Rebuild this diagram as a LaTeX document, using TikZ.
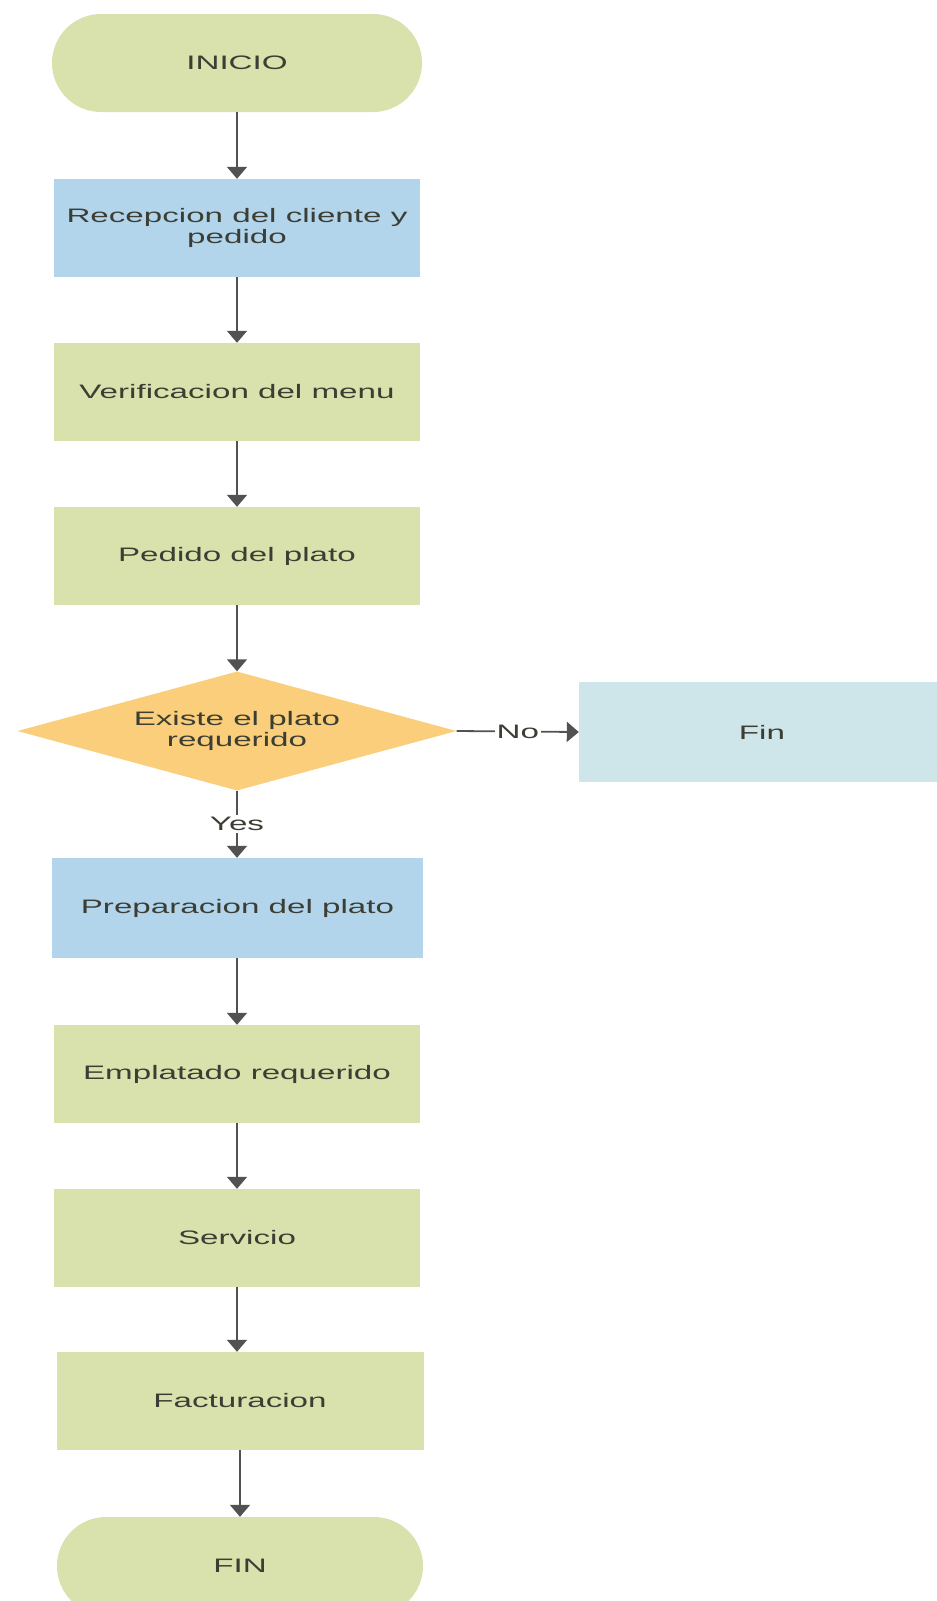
\documentclass[tikz,border=0pt]{standalone}
\usepackage{fontspec}
\setmainfont[FakeStretch=1.7]{Liberation Sans}
\usetikzlibrary{arrows.meta,shapes.geometric,shapes.misc}
\definecolor{cgreen}{RGB}{217,225,172}
\definecolor{cblue}{RGB}{178,213,236}
\definecolor{ccyan}{RGB}{206,229,233}
\definecolor{corange}{RGB}{250,206,122}
\definecolor{ctext}{RGB}{60,62,52}
\definecolor{cline}{RGB}{82,82,82}
\tikzset{
  base/.style={inner sep=0pt, text=ctext, align=center,
    font=\fontsize{19.5}{20.5}\selectfont},
  procbox/.style={base, rectangle, minimum width=366pt, minimum height=98pt},
  termbox/.style={base, rounded rectangle, fill=cgreen, minimum width=370pt, minimum height=98pt},
  decbox/.style={base, diamond, fill=corange, aspect=3.69, minimum width=439pt, minimum height=119pt},
  conn/.style={draw=cline, line width=1.8pt, -{Triangle[width=20pt,length=12pt]}},
  lbl/.style={base, fill=white, inner sep=2pt, text=ctext}
}
\begin{document}
\begin{tikzpicture}[x=1pt,y=-1pt]
\useasboundingbox (0,0) rectangle (937,1601);
\fill[white] (0,0) rectangle (937,1601);
\clip (0,0) rectangle (937,1601);
\node[termbox] (ini) at (237,63) {INICIO};
\node[procbox, fill=cblue] (rec) at (237,228) {Recepcion del cliente y\\pedido};
\node[procbox, fill=cgreen] (ver) at (237,392) {Verificacion del menu};
\node[procbox, fill=cgreen] (ped) at (237,556) {Pedido del plato};
\node[decbox] (dec) at (237,731) {Existe el plato\\requerido};
\node[procbox, fill=ccyan, minimum height=100pt] (fin) at (762,732) {Fin};
\node[procbox, fill=cblue, minimum width=371pt, minimum height=100pt] (pre) at (237.5,908) {Preparacion del plato};
\node[procbox, fill=cgreen] (emp) at (237,1074) {Emplatado requerido};
\node[procbox, fill=cgreen] (ser) at (237,1238) {Servicio};
\node[procbox, fill=cgreen, minimum width=367pt] (fac) at (240,1401) {Facturacion};
\node[termbox, minimum width=366pt] (fin2) at (240,1566) {FIN};
\draw[conn] (ini) -- (rec);
\draw[conn] (rec) -- (ver);
\draw[conn] (ver) -- (ped);
\draw[conn] (ped) -- (dec);
\draw[conn] (dec.east) -- node[lbl] (no) {No} (fin.west);
\draw[conn] (dec.south) -- node[lbl] (yes) {Yes} (dec.south |- pre.north);
\draw[conn] (pre.south -| emp.north) -- (emp.north);
\draw[conn] (emp) -- (ser);
\draw[conn] (ser.south) -- (ser.south |- fac.north);
\draw[conn] (fac.south) -- (fin2.north);
\end{tikzpicture}
\end{document}
